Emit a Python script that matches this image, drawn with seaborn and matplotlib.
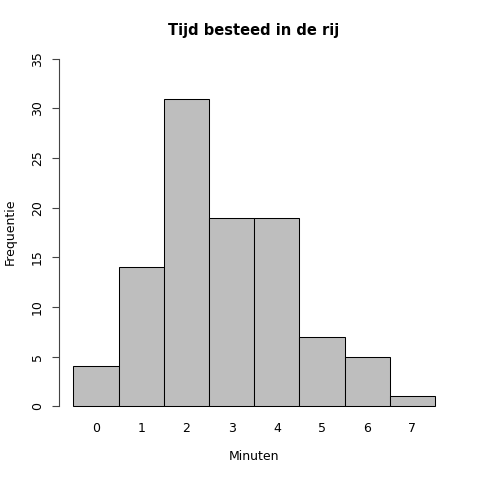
import matplotlib
matplotlib.use('Agg')
import matplotlib.pyplot as plt
import seaborn as sns
import pandas as pd

# Gegevens
minuten = ['0', '1', '2', '3', '4', '5', '6', '7']
frequentie = [4, 14, 31, 19, 19, 7, 5, 1]

sns.set_style('white')
plt.rcParams['font.family'] = ['DejaVu Sans']
plt.rcParams['text.color'] = 'black'
plt.rcParams['xtick.color'] = 'black'
plt.rcParams['ytick.color'] = 'black'

df = pd.DataFrame({'Minuten': minuten, 'Frequentie': frequentie})

fig = plt.figure(figsize=(4.8, 4.8), dpi=100)
ax = fig.add_axes([59 / 480, 60 / 480, 390.5 / 480, 375 / 480])

sns.barplot(data=df, x='Minuten', y='Frequentie', color='#BEBEBE',
            saturation=1, width=1, edgecolor='black', linewidth=0.75, ax=ax)

ax.set_xlim(-0.82, 7.82)
ax.set_ylim(-1.4, 36.4)
ax.set_yticks(range(0, 36, 5))
ax.set_yticklabels([str(v) for v in range(0, 36, 5)], rotation=90, va='center', fontsize=9)
ax.tick_params(axis='y', length=5, width=0.8, color='#444444', labelcolor='black', pad=6, left=True)
ax.tick_params(axis='x', length=0, pad=1.5, labelsize=9, labelcolor='black')

for s in ['top', 'right', 'bottom']:
    ax.spines[s].set_visible(False)
ax.spines['left'].set_bounds(0, 35)
ax.spines['left'].set_color('#444444')
ax.spines['left'].set_linewidth(0.8)

ax.set_xlabel('')
ax.set_ylabel('')
fig.text(254 / 480, 1 - 30 / 480, 'Tijd besteed in de rij', ha='center', va='center',
         fontsize=10.5, fontweight='bold', color='black')
fig.text(254 / 480, 1 - 457 / 480, 'Minuten', ha='center', va='center', fontsize=9, color='black')
fig.text(10 / 480, 1 - 232 / 480, 'Frequentie', ha='center', va='center',
         rotation=90, fontsize=9, color='black')

fig.savefig('out.png', dpi=100)
